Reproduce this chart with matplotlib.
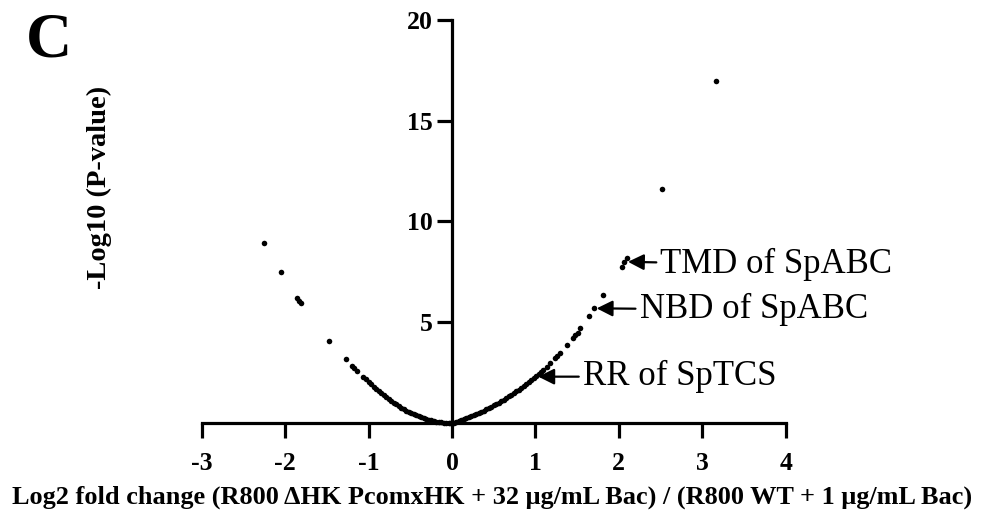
import matplotlib
matplotlib.use("Agg")
import matplotlib.pyplot as plt

plt.rcParams["font.family"] = ["Liberation Serif", "DejaVu Serif"]
plt.rcParams["axes.unicode_minus"] = False

# dense part of the curve
curve_x = [-1.00, -0.97, -0.94, -0.91, -0.88, -0.85, -0.82, -0.79, -0.76, -0.73,
           -0.70, -0.67, -0.64, -0.61, -0.58, -0.55, -0.52, -0.49, -0.46, -0.43,
           -0.40, -0.37, -0.34, -0.31, -0.28, -0.25, -0.22, -0.19, -0.16, -0.13,
           -0.10, -0.07, -0.04, -0.02, 0.00,
           0.02, 0.05, 0.08, 0.11, 0.14, 0.17, 0.20, 0.23, 0.26, 0.29,
           0.32, 0.35, 0.38, 0.41, 0.44, 0.47, 0.50, 0.53, 0.56, 0.59,
           0.62, 0.65, 0.68, 0.71, 0.74, 0.77, 0.80, 0.83, 0.86, 0.89,
           0.92, 0.95, 0.98, 1.01, 1.04, 1.07]
curve_y = [2.05, 1.93, 1.81, 1.70, 1.59, 1.48, 1.38, 1.28, 1.18, 1.09,
           1.00, 0.92, 0.84, 0.76, 0.69, 0.62, 0.55, 0.49, 0.43, 0.38,
           0.33, 0.28, 0.24, 0.20, 0.16, 0.13, 0.10, 0.07, 0.05, 0.035,
           0.02, 0.01, 0.003, 0.001, 0.0,
           0.02, 0.06, 0.09, 0.13, 0.18, 0.23, 0.28, 0.33, 0.38, 0.44,
           0.50, 0.56, 0.62, 0.68, 0.74, 0.81, 0.87, 0.94, 1.01, 1.08,
           1.16, 1.24, 1.32, 1.40, 1.48, 1.57, 1.66, 1.75, 1.84, 1.94,
           2.03, 2.13, 2.23, 2.34, 2.44, 2.55]

# sparser points further out
outer_x = [-2.254, -2.054, -1.862, -1.838, -1.814, -1.478, -1.275, -1.203, -1.173,
           -1.143, -1.064, -1.030,
           1.095, 1.135, 1.175, 1.235, 1.265, 1.295, 1.375, 1.455, 1.480, 1.505,
           1.535, 1.646, 1.706, 1.814, 2.035, 2.068, 2.100, 2.520, 3.170]
outer_y = [8.92, 7.48, 6.19, 6.07, 5.94, 4.07, 3.16, 2.83, 2.72,
           2.60, 2.27, 2.16,
           2.63, 2.80, 2.96, 3.23, 3.35, 3.47, 3.87, 4.22, 4.35, 4.49,
           4.71, 5.31, 5.69, 6.35, 7.76, 7.97, 8.17, 11.60, 16.95]

labels = ["TMD of SpABC", "NBD of SpABC", "RR of SpTCS"]
label_xy = [(2.11, 8.0), (1.735, 5.69), (1.035, 2.30)]
label_text_xy = [(2.50, 7.85), (2.25, 5.62), (1.57, 2.30)]

fig = plt.figure(figsize=(9.81, 5.26), dpi=100)
ax = fig.add_axes([0.2057, 0.1958, 0.5951, 0.7662])

ax.scatter(curve_x + outer_x, curve_y + outer_y, s=16, color="black",
           linewidths=0, clip_on=False, zorder=3)

for lab, xy, txy in zip(labels, label_xy, label_text_xy):
    ax.annotate(lab, xy=xy, xytext=txy, fontsize=25, va="center", ha="left",
                arrowprops=dict(arrowstyle="-|>", color="black", lw=1.6,
                                mutation_scale=24, shrinkA=1, shrinkB=0))

ax.set_xlim(-3, 4)
ax.set_ylim(0, 20)
ax.set_xticks(range(-3, 5))
ax.set_yticks([0, 5, 10, 15, 20])
ax.set_yticklabels(["", "5", "10", "15", "20"])

ax.spines["left"].set_position(("data", 0))
ax.spines["bottom"].set_position(("data", 0))
ax.spines["right"].set_visible(False)
ax.spines["top"].set_visible(False)
for side in ["left", "bottom"]:
    ax.spines[side].set_linewidth(2.3)
    ax.spines[side].set_capstyle("projecting")
ax.tick_params(direction="out", length=11, width=2.3, labelsize=18.5)
ax.tick_params(axis="x", pad=10)
ax.tick_params(axis="y", pad=3)
for t in ax.get_xticklabels() + ax.get_yticklabels():
    t.set_fontweight("bold")

fig.text(0.101, 0.643, "-Log10 (P-value)", rotation=90, fontsize=20.5,
         fontweight="bold", ha="center", va="center")
fig.text(0.5015, 0.055, "Log2 fold change (R800 \u0394HK PcomxHK + 32 \u03bcg/mL Bac) / (R800 WT + 1 \u03bcg/mL Bac)",
         fontsize=18.9, fontweight="bold", ha="center", va="center")
fig.text(0.05, 0.922, "C", fontsize=46, fontweight="bold", ha="center", va="center")

fig.savefig("out.png", dpi=100)
